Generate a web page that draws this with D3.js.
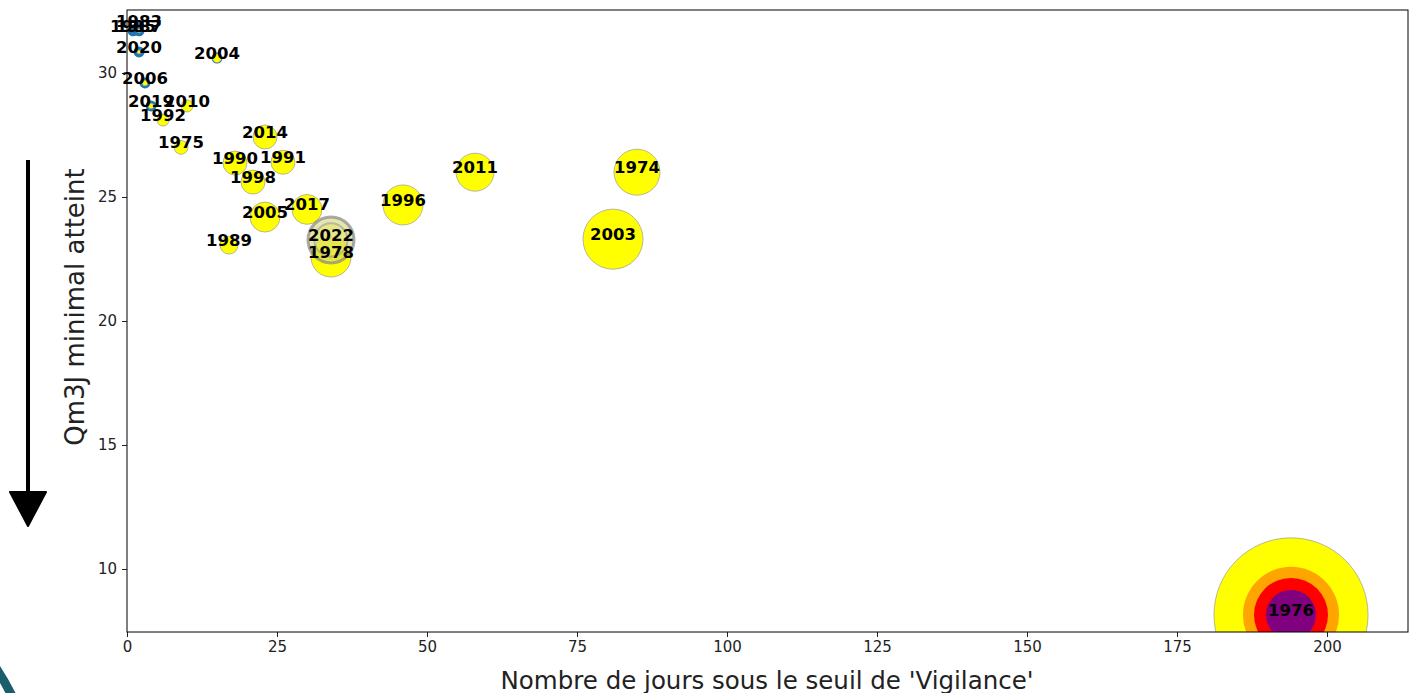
<!DOCTYPE html>
<html>
<head>
<meta charset="utf-8">
<script src="https://cdn.jsdelivr.net/npm/d3@7"></script>
<style>
  body { margin: 0; background: #fff; }
  svg { display: block; font-family: "DejaVu Sans", sans-serif; }
</style>
</head>
<body>
<svg id="chart" width="1417" height="693"><defs></defs></svg>
<script>
// annees et valeurs
var annees = [1983, 1985, 1987, 2020, 2004, 2006, 2019, 2010, 1992, 1975,
              2014, 1990, 1991, 1998, 2005, 2017, 1989, 1978, 1996, 2011,
              1974, 2003, 1976, 2022];
var joursVigilance = [2, 1, 2, 2, 15, 3, 4, 10, 6, 9,
                      23, 18, 26, 21, 23, 30, 17, 34, 46, 58,
                      85, 81, 194, 34];
var qm3jMin = [31.9, 31.7, 31.7, 30.85, 30.6, 29.6, 28.67, 28.67, 28.1, 27.0,
               27.42, 26.37, 26.4, 25.6, 24.19, 24.5, 23.06, 22.58, 24.68, 26.0,
               26.0, 23.3, 8.15, 23.27];
// intensite des seuils (taille des bulles)
var vigilance = [0, 0, 1, 1, 5, 2, 2, 9, 9, 12,
                 36, 36, 36, 36, 56, 56, 20, 100, 100, 90,
                 132, 225, 1482, 132];
var alerte = [0, 0, 0, 0, 0, 0, 0, 0, 0, 0,
              0, 0, 0, 0, 0, 0, 0, 0.5, 0, 0,
              0, 0, 576, 0];
var alerteRenforcee = [0, 0, 0, 0, 0, 0, 0, 0, 0, 0,
                       0, 0, 0, 0, 0, 0, 0, 0, 0, 0,
                       0, 0, 342, 0];
var crise = [0, 0, 0, 0, 0, 0, 0, 0, 0, 0,
             0, 0, 0, 0, 0, 0, 0, 0, 0, 0,
             0, 0, 156, 0];
var anneeEnCours = 2022;
var xTicks = [0, 25, 50, 75, 100, 125, 150, 175, 200];
var yTicks = [10, 15, 20, 25, 30];

var svg = d3.select('#chart');
var mLeft = 127, mRight = 1408, mTop = 10, mBottom = 632;

var x = d3.scaleLinear().domain([0, 213.5]).range([mLeft, mRight]);
var y = d3.scaleLinear().domain([7.46, 32.54]).range([mBottom, mTop]);
var r = d3.scaleSqrt().domain([0, 1500]).range([0, 77.5]);

var pts = annees.map(function(a, i) {
  return {annee: a, j: joursVigilance[i], q: qm3jMin[i],
          v: vigilance[i], a: alerte[i], ar: alerteRenforcee[i], c: crise[i]};
});
var normaux = pts.filter(function(d) { return d.annee !== anneeEnCours; });
var enCours = pts.filter(function(d) { return d.annee === anneeEnCours; });

// zone de trace
svg.select('defs').append('clipPath').attr('id', 'zone')
    .append('rect')
    .attr('x', mLeft).attr('y', mTop)
    .attr('width', mRight - mLeft).attr('height', mBottom - mTop);

function styleAxe(g) {
  g.select('.domain').remove();
  g.attr('font-family', null).attr('font-size', null);
  g.selectAll('text').style('font-size', '15px').attr('fill', '#222');
  g.selectAll('line').attr('stroke', '#222');
}

// axes
svg.append('g')
    .attr('transform', 'translate(0,' + mBottom + ')')
    .call(d3.axisBottom(x).tickValues(xTicks).tickSizeOuter(0).tickSize(5).tickPadding(4))
    .call(styleAxe);
svg.append('g')
    .attr('transform', 'translate(' + mLeft + ',0)')
    .call(d3.axisLeft(y).tickValues(yTicks).tickSizeOuter(0).tickSize(5).tickPadding(5))
    .call(styleAxe);

var plot = svg.append('g').attr('clip-path', 'url(#zone)');

// fond bleu (tous les points)
plot.append('g').selectAll('circle').data(normaux).join('circle')
    .attr('cx', function(d) { return x(d.j); })
    .attr('cy', function(d) { return y(d.q); })
    .attr('r', 5.5)
    .attr('fill', '#1f77b4');

// couches par seuil
var couches = [['v', 'yellow'], ['a', 'orange'], ['ar', 'red'], ['c', 'purple']];
couches.forEach(function(c) {
  plot.append('g').selectAll('circle')
      .data(normaux.filter(function(d) { return d[c[0]] > 0; }))
      .join('circle')
      .attr('cx', function(d) { return x(d.j); })
      .attr('cy', function(d) { return y(d.q); })
      .attr('r', function(d) { return r(d[c[0]]); })
      .attr('fill', c[1])
      .attr('stroke', c[0] === 'v' ? '#999' : 'none')
      .attr('stroke-width', 0.7);
});

// annee en cours, grisee
var gc = plot.append('g');
enCours.forEach(function(d) {
  gc.append('circle').attr('cx', x(d.j)).attr('cy', y(d.q)).attr('r', r(d.v))
      .attr('fill', '#cfcf70').attr('fill-opacity', 0.55)
      .attr('stroke', '#888').attr('stroke-opacity', 0.7).attr('stroke-width', 3);
  gc.append('circle').attr('cx', x(d.j)).attr('cy', y(d.q)).attr('r', r(d.v) * 0.72)
      .attr('fill', '#e8e860').attr('fill-opacity', 0.5)
      .attr('stroke', '#999').attr('stroke-opacity', 0.6).attr('stroke-width', 2);
});

// cadre
svg.append('rect')
    .attr('x', mLeft).attr('y', mTop)
    .attr('width', mRight - mLeft).attr('height', mBottom - mTop)
    .attr('fill', 'none').attr('stroke', '#000').attr('stroke-width', 1);

// etiquettes
svg.append('g').selectAll('text').data(pts).join('text')
    .attr('x', function(d) { return x(d.j); })
    .attr('y', function(d) { return y(d.q) + 1; })
    .attr('text-anchor', 'middle')
    .attr('font-size', 16.5)
    .attr('font-weight', 'bold')
    .attr('fill', '#000')
    .text(function(d) { return d.annee; });

// titres des axes
svg.append('text')
    .attr('x', 767).attr('y', 689)
    .attr('text-anchor', 'middle')
    .attr('font-size', 24.5).attr('fill', '#222')
    .text("Nombre de jours sous le seuil de 'Vigilance'");
svg.append('text')
    .attr('transform', 'translate(84,307) rotate(-90)')
    .attr('text-anchor', 'middle')
    .attr('font-size', 26).attr('fill', '#222')
    .text('Qm3J minimal atteint');

// fleche
svg.append('line')
    .attr('x1', 28).attr('y1', 160).attr('x2', 28).attr('y2', 495)
    .attr('stroke', '#000').attr('stroke-width', 4);
svg.append('path')
    .attr('d', 'M10,492 L46,492 L28,526 Z')
    .attr('fill', '#000').attr('stroke', '#000').attr('stroke-linejoin', 'round').attr('stroke-width', 2);

// coin decoratif
svg.append('path')
    .attr('d', 'M-4,668 Q4,680 12,696')
    .attr('fill', 'none').attr('stroke', '#1b5e6b').attr('stroke-width', 9);
</script>
</body>
</html>
